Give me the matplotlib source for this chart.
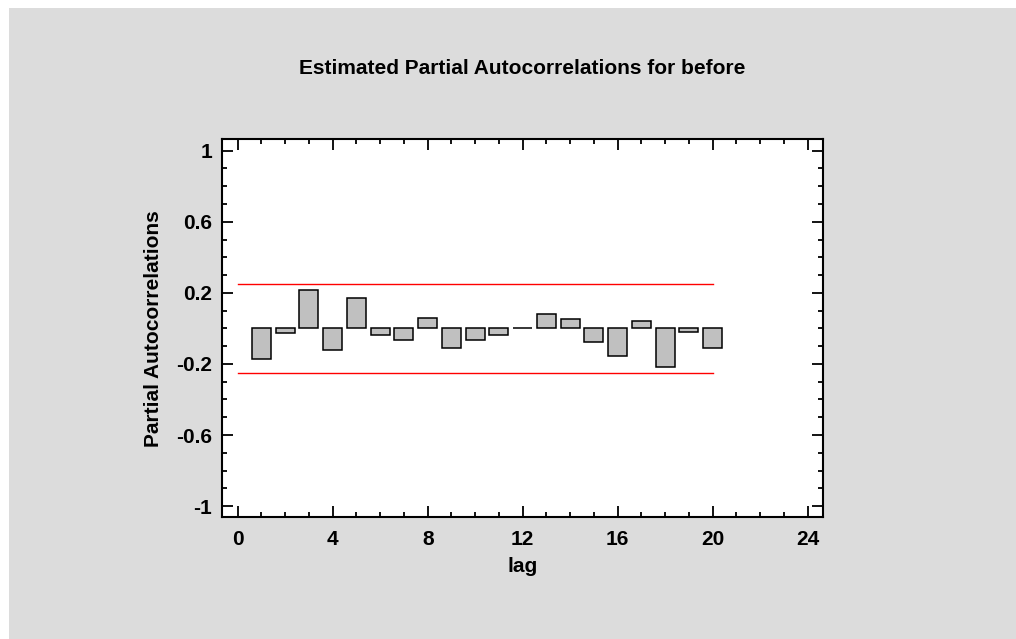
import matplotlib
matplotlib.use("Agg")
import matplotlib.pyplot as plt
from matplotlib.ticker import MultipleLocator, FixedLocator
from matplotlib.patches import Rectangle

lags = list(range(1, 21))
pacf = [-0.172, -0.028, 0.215, -0.119, 0.170, -0.038, -0.065, 0.061, -0.110, -0.065,
        -0.038, 0.002, 0.082, 0.053, -0.074, -0.157, 0.044, -0.218, -0.020, -0.110]
upper_limit = 0.252
lower_limit = -0.252
x_ticks = [0, 4, 8, 12, 16, 20, 24]
y_ticks = [-1, -0.6, -0.2, 0.2, 0.6, 1]
y_tick_labels = ["-1", "-0.6", "-0.2", "0.2", "0.6", "1"]
title = "Estimated Partial Autocorrelations for before"
xlabel = "lag"
ylabel = "Partial Autocorrelations"

plt.rcParams['font.family'] = ['Liberation Sans', 'DejaVu Sans']
plt.rcParams['font.weight'] = 'bold'

W, H = 1016, 639
fig = plt.figure(figsize=(W / 100, H / 100), dpi=100, facecolor='white')
fig.patches.append(Rectangle((9 / W, 0), 1 - 9 / W, 1 - 8 / H, transform=fig.transFigure,
                             facecolor='#dcdcdc', edgecolor='none', zorder=-10))

ax = fig.add_axes([222 / W, 1 - 517.3 / H, (822.7 - 222) / W, (517.3 - 139.3) / H])
ax.set_facecolor('white')

ax.bar(lags, pacf, width=0.8, color='#c0c0c0', edgecolor='black', linewidth=1.1, zorder=3)
ax.plot([0, 20], [upper_limit, upper_limit], color='#ff0000', linewidth=1.0, zorder=2)
ax.plot([0, 20], [lower_limit, lower_limit], color='#ff0000', linewidth=1.0, zorder=2)

ax.set_xlim(-0.66, 24.63)
ax.set_ylim(-1.063, 1.064)

ax.xaxis.set_major_locator(FixedLocator(x_ticks))
ax.xaxis.set_minor_locator(MultipleLocator(1))
ax.yaxis.set_major_locator(FixedLocator(y_ticks))
ax.set_yticklabels(y_tick_labels)
ax.yaxis.set_minor_locator(MultipleLocator(0.1))

for s in ax.spines.values():
    s.set_linewidth(1.5)

ax.tick_params(which='both', direction='in', top=True, right=True, width=1.3)
ax.tick_params(which='major', length=7.7)
ax.tick_params(which='minor', length=3.8)
ax.tick_params(axis='x', which='major', labelsize=15, pad=9)
ax.tick_params(axis='y', which='major', labelsize=15, pad=7)
for lbl in ax.get_xticklabels() + ax.get_yticklabels():
    lbl.set_fontweight('bold')

ax.set_title(title, fontsize=15, fontweight='bold', pad=47)
ax.set_xlabel(xlabel, fontsize=15, fontweight='bold', labelpad=6)
ax.set_ylabel(ylabel, fontsize=15, fontweight='bold', labelpad=9.5)

fig.savefig("out.png", dpi=100, facecolor=fig.get_facecolor())
